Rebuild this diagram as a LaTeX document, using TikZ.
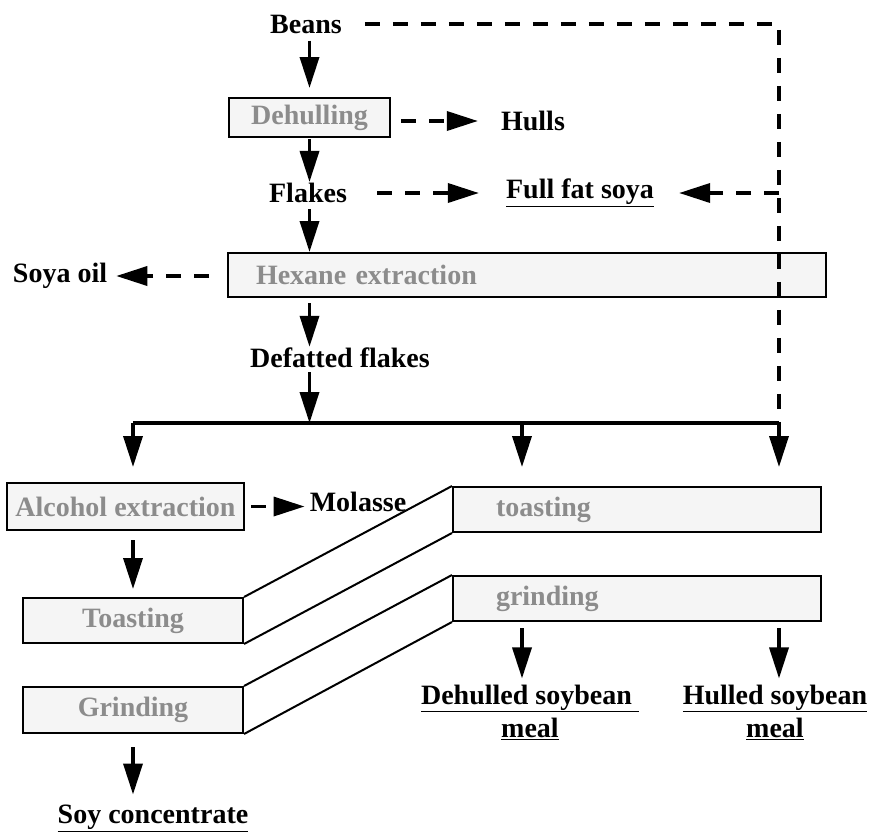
\documentclass[tikz,border=0pt]{standalone}
\usepackage{fontspec}
\setmainfont{Liberation Serif}
\usetikzlibrary{arrows.meta,calc}
\definecolor{boxfill}{RGB}{245,245,245}
\definecolor{boxtext}{RGB}{140,140,140}
\begin{document}
\begin{tikzpicture}[x=1pt,y=-1pt,
  every node/.style={font=\fontsize{28}{33}\selectfont\bfseries, inner sep=0pt},
  lbl/.style={text=black},
  procbox/.style={draw, line width=2pt, fill=boxfill, text=boxtext},
  arr/.style={line width=3.5pt, -{Triangle[length=31pt,width=19pt]}},
  darr/.style={line width=3.5pt, dash pattern=on 15pt off 13pt, -{Triangle[length=31pt,width=19pt]}},
  dline/.style={line width=3.5pt, dash pattern=on 15pt off 13pt},
  slant/.style={line width=2pt}]
\useasboundingbox (0,0) rectangle (870,831);

% nodes
\node[lbl] (beans) at (306,24) {Beans};
\node[procbox, minimum width=161pt, minimum height=39pt] (dehull) at (309.5,117.5) {Dehulling};
\node[lbl] (hulls) at (533,121) {Hulls};
\node[lbl] (flakes) at (308,193) {Flakes};
\node[lbl] (fullfat) at (580,193) {\underline{Full fat soya}};
\node[procbox, minimum height=44pt, text width=542pt, inner xsep=28pt, align=left] (hexane) at (527,275) {Hexane extraction};
\node[lbl] (soyaoil) at (60,276) {Soya oil};
\node[lbl] (defatted) at (340,358) {Defatted flakes};
\coordinate (L) at (133,423);
\coordinate (C2) at (522,423);
\coordinate (J) at (779,423);
\coordinate (ffR) at (779,193);
\node[procbox, minimum width=237pt, minimum height=47pt] (alcohol) at (125.5,506.5) {Alcohol extraction};
\node[lbl] (molasse) at (358,502) {Molasse};
\node[procbox, minimum height=45pt, text width=282pt, inner xsep=43pt, align=left] (toast2) at (637,509.5) {toasting};
\node[procbox, minimum height=45pt, text width=282pt, inner xsep=43pt, align=left] (grind2) at (637,598.5) {grinding};
\node[procbox, minimum width=220pt, minimum height=45pt] (toast1) at (133,620.5) {Toasting};
\node[procbox, minimum width=220pt, minimum height=46pt] (grind1) at (133,710) {Grinding};
\node[lbl, align=center] (dehulled) at (530,712) {\underline{Dehulled soybean\ }\\\underline{meal}};
\node[lbl, align=center] (hulled) at (775,712) {\underline{Hulled soybean}\\\underline{meal}};
\node[lbl] (soy) at (153,818) {\underline{Soy concentrate}};

% connectors
\draw[arr, shorten <=7pt, shorten >=9pt] (dehull.north |- beans.south) -- (dehull.north);
\draw[dline] ([xshift=23pt]beans.east) -| (J);
\draw[darr, shorten <=10pt, shorten >=23pt] (hulls -| dehull.east) -- (hulls.west);
\draw[arr, shorten <=1pt, shorten >=1pt] (dehull.south) -- (dehull.south |- flakes.north);
\draw[darr, shorten <=30pt, shorten >=27pt] (flakes.east) -- (flakes.east -| fullfat.west);
\draw[darr, shorten >=25pt] (ffR) -- (ffR -| fullfat.east);
\draw[arr, shorten <=6pt] (dehull.south |- flakes.south) -- (dehull.south |- hexane.north);
\draw[darr, shorten <=18pt, shorten >=9pt] (hexane.west |- soyaoil) -- (soyaoil.east);
\draw[arr, shorten <=5pt, shorten >=1pt] (dehull.south |- hexane.south) -- (dehull.south |- defatted.north);
\draw[arr, shorten <=4pt] (dehull.south |- defatted.south) -- (dehull.south |- L);
\draw[line width=3.5pt] (L) -- (J);
\draw[arr, shorten >=15pt] (L) -- (L |- alcohol.north);
\draw[arr, shorten >=19pt] (C2) -- (C2 |- toast2.north);
\draw[arr, shorten >=19pt] (J) -- (J |- toast2.north);
\draw[darr, shorten <=6pt, shorten >=5pt] (alcohol.east) -- (alcohol.east -| molasse.west);
\draw[arr, shorten <=9pt, shorten >=8pt] (L |- alcohol.south) -- (L |- toast1.north);
\draw[arr, shorten <=13pt, shorten >=10pt] (L |- grind1.south) -- (L |- soy.north);
\draw[arr, shorten <=6pt, shorten >=6pt] (C2 |- grind2.south) -- (C2 |- dehulled.north);
\draw[arr, shorten <=6pt, shorten >=6pt] (J |- grind2.south) -- (J |- hulled.north);

\draw[slant] (toast1.north east) -- (toast2.north west);
\draw[slant] (toast1.south east) -- (toast2.south west);
\draw[slant] (grind1.north east) -- (grind2.north west);
\draw[slant] (grind1.south east) -- (grind2.south west);
\end{tikzpicture}
\end{document}
